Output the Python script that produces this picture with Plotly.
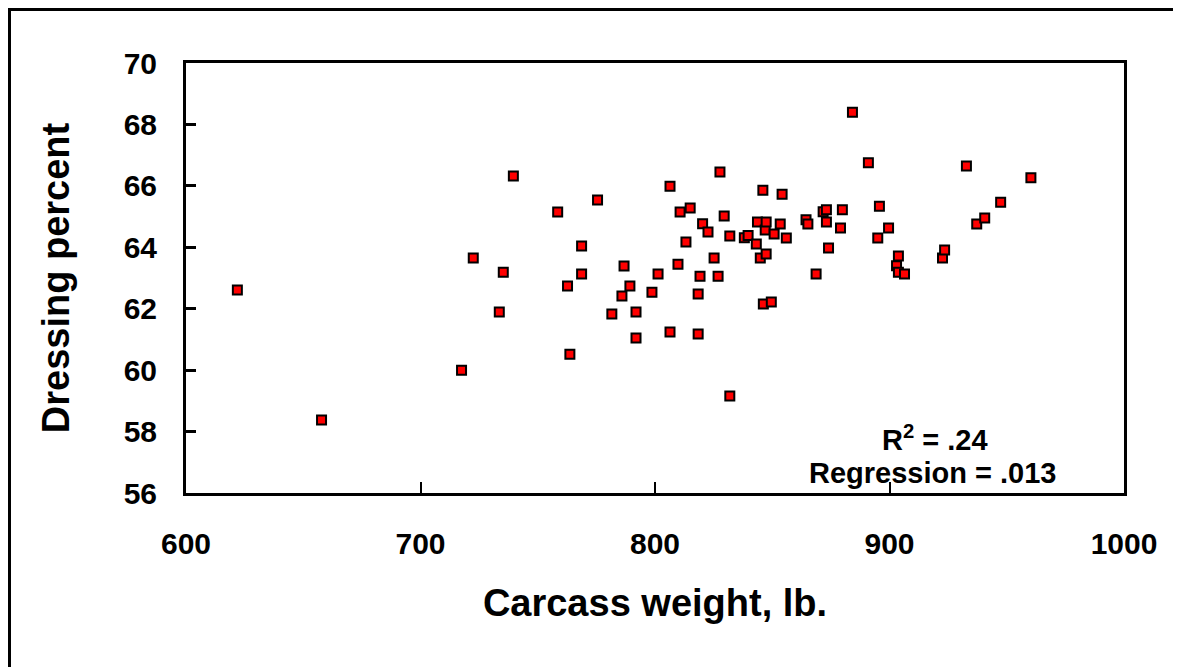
import plotly.graph_objects as go

carcass_weight = [621.9, 657.8, 717.5, 722.5, 733.6, 735.3, 739.6, 758.5, 762.7, 763.7,
                  768.7, 768.7, 775.5, 781.6, 785.9, 786.8, 789.3, 791.9, 791.9, 798.7,
                  801.3, 806.4, 806.4, 809.8, 810.7, 813.2, 815.0, 818.4, 818.4, 819.2,
                  820.3, 822.6, 825.2, 826.9, 827.7, 829.5, 831.9, 831.9, 838.1, 839.7,
                  843.2, 843.7, 844.9, 846.0, 846.2, 847.0, 847.4, 847.4, 849.6, 850.8,
                  853.4, 854.2, 856.0, 864.4, 865.2, 868.7, 871.7, 873.1, 873.1, 874.0,
                  879.1, 879.9, 884.2, 891.0, 895.0, 895.7, 899.6, 903.0, 903.8, 903.8,
                  906.4, 922.6, 923.5, 932.8, 937.2, 940.6, 947.4, 960.3]
dressing_pct = [62.61, 58.38, 60.00, 63.65, 61.89, 63.19, 66.32, 65.15, 62.74, 60.52,
                64.04, 63.13, 65.54, 61.83, 62.41, 63.39, 62.74, 61.89, 61.05, 62.54,
                63.13, 65.99, 61.24, 63.45, 65.15, 64.17, 65.28, 62.48, 61.18, 63.06,
                64.77, 64.50, 63.65, 63.06, 66.45, 65.02, 64.37, 59.16, 64.31, 64.38,
                64.11, 64.82, 63.65, 65.86, 62.15, 64.56, 64.82, 63.78, 62.22, 64.43,
                64.76, 65.73, 64.30, 64.90, 64.76, 63.13, 65.16, 65.22, 64.82, 63.98,
                64.63, 65.22, 68.40, 66.75, 64.30, 65.34, 64.63, 63.40, 63.72, 63.19,
                63.13, 63.65, 63.91, 66.65, 64.76, 64.95, 65.47, 66.26]

x_ticks = [600, 700, 800, 900, 1000]
y_ticks = [56, 58, 60, 62, 64, 66, 68, 70]

FONT = "Arial, Liberation Sans, sans-serif"

fig = go.Figure()
fig.add_trace(go.Scatter(
    x=carcass_weight, y=dressing_pct, mode="markers",
    marker=dict(symbol="square", size=9, color="#ff0000",
                line=dict(color="black", width=2)),
    showlegend=False, cliponaxis=False,
))

fig.update_layout(
    width=1173, height=659,
    margin=dict(l=178, r=57, t=55, b=174),
    paper_bgcolor="white", plot_bgcolor="white",
    font=dict(family=FONT, color="black"),
    xaxis=dict(
        range=[600, 1000], tickvals=x_ticks, ticktext=[str(v) for v in x_ticks],
        showgrid=False, zeroline=False,
        showline=True, linecolor="black", linewidth=3, mirror=True,
        ticks="inside", ticklen=11, tickwidth=2, tickcolor="black",
        tickfont=dict(family=FONT, size=30, color="black", weight="bold"),
        ticklabelstandoff=22,
        title=dict(text="<b>Carcass weight, lb.</b>", font=dict(family=FONT, size=38, color="black"),
                   standoff=31),
    ),
    yaxis=dict(
        range=[56, 70], tickvals=y_ticks, ticktext=[str(v) for v in y_ticks],
        showgrid=False, zeroline=False,
        showline=True, linecolor="black", linewidth=3, mirror=True,
        ticks="inside", ticklen=10, tickwidth=3, tickcolor="black",
        tickfont=dict(family=FONT, size=30, color="black", weight="bold"),
        ticklabelstandoff=20,
        title=dict(text="<b>Dressing percent</b>", font=dict(family=FONT, size=38, color="black"),
                   standoff=43),
    ),
    shapes=[dict(type="rect", xref="paper", yref="paper",
                 x0=(1.5 - 178) / 938, x1=1.3, y0=-0.7, y1=1 + (55 - 1.5) / 430,
                 line=dict(color="black", width=3), fillcolor="rgba(0,0,0,0)", layer="below")],
    annotations=[
        dict(x=919.5, y=57.8, xref="x", yref="y", showarrow=False,
             text="<b>R<sup>2</sup> = .24</b>", font=dict(family=FONT, size=29, color="black")),
        dict(x=918.5, y=56.65, xref="x", yref="y", showarrow=False,
             text="<b>Regression = .013</b>", font=dict(family=FONT, size=29, color="black")),
    ],
)

fig.write_html("out.html")
